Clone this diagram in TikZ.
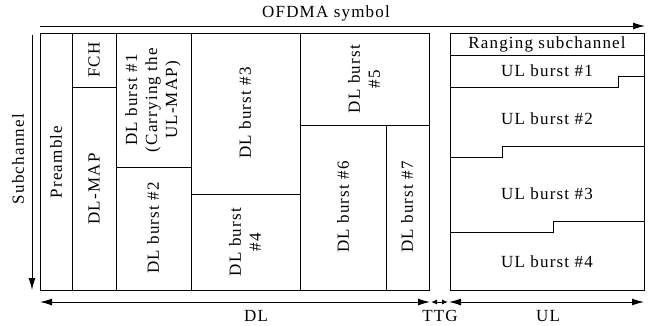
\documentclass[tikz,border=0pt]{standalone}
\usepackage{fontspec}
\setmainfont{Liberation Serif}[LetterSpace=7]
\usetikzlibrary{arrows.meta}
\begin{document}
\begin{tikzpicture}[x=1pt,y=-1pt,
  frame/.style={draw, line width=1pt},
  sep/.style={line width=1pt},
  lbl/.style={font=\fontsize{17}{20}\selectfont, align=center, inner sep=0pt},
  vlbl/.style={lbl, rotate=90},
  axis/.style={line width=1pt, -{Latex[length=12pt,width=7pt]}},
  both/.style={line width=1pt, {Latex[length=12pt,width=7pt]}-{Latex[length=12pt,width=7pt]}},
  small/.style={line width=1pt, {Latex[length=6pt,width=5pt]}-{Latex[length=6pt,width=5pt]}}]
\useasboundingbox (0,0) rectangle (651,325);
% frames
\draw[frame] (40,33) rectangle (429,290);
\draw[frame] (450,33) rectangle (644,290);
% DL separators
\draw[sep] (72,33) -- (72,290);
\draw[sep] (116,33) -- (116,290);
\draw[sep] (191,33) -- (191,290);
\draw[sep] (300,33) -- (300,290);
\draw[sep] (72,87) -- (116,87);
\draw[sep] (116,167) -- (191,167);
\draw[sep] (191,194) -- (300,194);
\draw[sep] (300,125) -- (429,125);
\draw[sep] (386,125) -- (386,290);
% UL separators
\draw[sep] (450,55) -- (644,55);
\draw[sep] (450,87) -- (618,87) -- (618,76) -- (644,76);
\draw[sep] (450,157) -- (502,157) -- (502,146) -- (644,146);
\draw[sep] (450,232) -- (553,232) -- (553,221) -- (644,221);
% axis coordinates
\coordinate (ofs) at (40,26);
\coordinate (ofe) at (645,26);
\coordinate (scs) at (32,35);
\coordinate (sce) at (32,290);
\coordinate (dls) at (40,302);
\coordinate (dle) at (430,302);
\coordinate (tts) at (431,302);
\coordinate (tte) at (448,302);
\coordinate (uls) at (449,302);
\coordinate (ule) at (644,302);
\draw[axis] (ofs) -- (ofe);
\draw[axis] (scs) -- (sce);
\draw[both] (dls) -- (dle);
\draw[small] (tts) -- (tte);
\draw[both] (uls) -- (ule);
% axis labels
\node[lbl] (ofdma) at (326,13) {OFDMA symbol};
\node[vlbl] (subch) at (18,159) {Subchannel};
\node[lbl] (dl) at (256,316) {DL};
\node[lbl] (ttg) at (440,316) {TTG};
\node[lbl] (ul) at (548,316) {UL};
% DL labels
\node[vlbl] (pre) at (56,162) {Preamble};
\node[vlbl] (fch) at (94,60) {FCH};
\node[vlbl] (dlmap) at (94,189) {DL-MAP};
\node[vlbl] (b1) at (153,100) {DL burst \#1\\(Carrying the\\UL-MAP)};
\node[vlbl] (b2) at (153,228) {DL burst \#2};
\node[vlbl] (b3) at (245,113) {DL burst \#3};
\node[vlbl] (b4) at (245,242) {DL burst\\\#4};
\node[vlbl] (b5) at (364,79) {DL burst\\\#5};
\node[vlbl] (b6) at (343,207) {DL burst \#6};
\node[vlbl] (b7) at (407,207) {DL burst \#7};
% UL labels
\node[lbl] (rng) at (547,44) {Ranging subchannel};
\node[lbl] (u1) at (547,71) {UL burst \#1};
\node[lbl] (u2) at (547,119) {UL burst \#2};
\node[lbl] (u3) at (547,194) {UL burst \#3};
\node[lbl] (u4) at (547,262) {UL burst \#4};
\end{tikzpicture}
\end{document}
